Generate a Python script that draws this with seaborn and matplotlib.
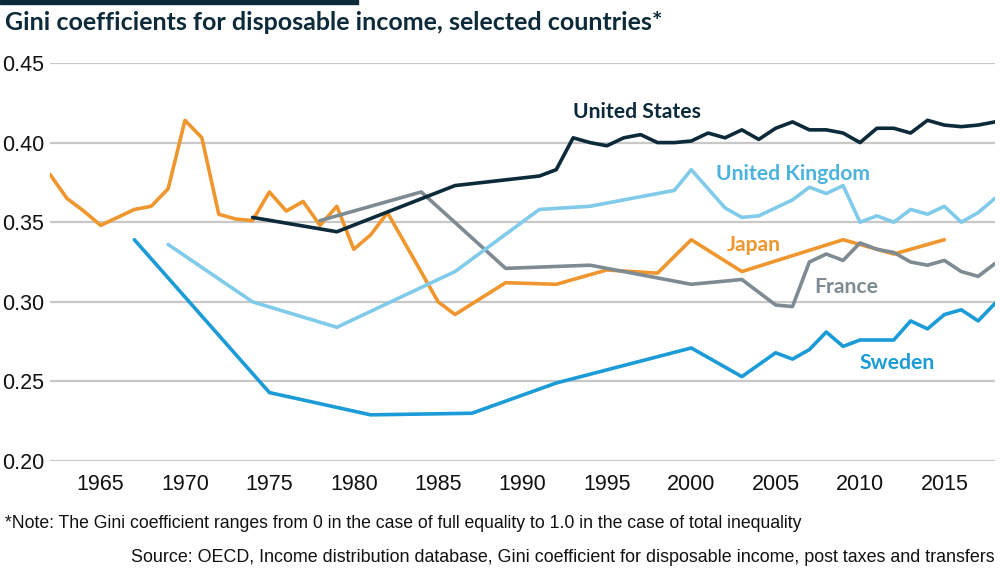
import numpy as np
import pandas as pd
import matplotlib
matplotlib.use("Agg")
import matplotlib.pyplot as plt
import seaborn as sns

# Gini coefficients
japan_years = [1962, 1963, 1964, 1965, 1966, 1967, 1968, 1969, 1970, 1971, 1972, 1973,
               1974, 1975, 1976, 1977, 1978, 1979, 1980, 1981, 1982, 1985, 1986, 1989,
               1992, 1995, 1998, 2000, 2003, 2009, 2012, 2015]
japan_gini = [0.380, 0.365, 0.357, 0.348, 0.353, 0.358, 0.360, 0.371, 0.414, 0.403, 0.355, 0.352,
              0.351, 0.369, 0.357, 0.363, 0.348, 0.360, 0.333, 0.342, 0.356, 0.300, 0.292, 0.312,
              0.311, 0.320, 0.318, 0.339, 0.319, 0.339, 0.330, 0.339]

us_years = [1974, 1979, 1986, 1991, 1992, 1993, 1994] + list(range(1995, 2019))
us_gini = [0.353, 0.344, 0.373, 0.379, 0.383, 0.403, 0.400,
           0.398, 0.403, 0.405, 0.400, 0.400, 0.401, 0.406, 0.403, 0.408, 0.402, 0.409, 0.413,
           0.408, 0.408, 0.406, 0.400, 0.409, 0.409, 0.406, 0.414, 0.411, 0.410, 0.411, 0.413]

uk_years = [1969, 1974, 1979, 1986, 1991, 1994, 1999] + list(range(2000, 2019))
uk_gini = [0.336, 0.300, 0.284, 0.319, 0.358, 0.360, 0.370,
           0.383, 0.371, 0.359, 0.353, 0.354, 0.359, 0.364, 0.372, 0.368, 0.373,
           0.350, 0.354, 0.350, 0.358, 0.355, 0.360, 0.350, 0.356, 0.365]

fr_years = [1978, 1984, 1989, 1994, 2000, 2003, 2005, 2006] + list(range(2007, 2019))
fr_gini = [0.351, 0.369, 0.321, 0.323, 0.311, 0.314, 0.298, 0.297,
           0.325, 0.330, 0.326, 0.337, 0.333, 0.331, 0.325, 0.323, 0.326, 0.319, 0.316, 0.324]

se_years = [1967, 1975, 1981, 1987, 1992, 2000, 2003, 2005, 2006] + list(range(2007, 2019))
se_gini = [0.339, 0.243, 0.229, 0.230, 0.249, 0.271, 0.253, 0.268, 0.264,
           0.270, 0.281, 0.272, 0.276, 0.276, 0.276, 0.288, 0.283, 0.292, 0.295, 0.288, 0.299]

countries = ["Japan", "France", "United Kingdom", "Sweden", "United States"]
colors = {"Japan": "#f0962e", "France": "#7e8b93", "United Kingdom": "#80cbea",
          "Sweden": "#1b9bd7", "United States": "#0c2a3a"}
label_colors = {"Japan": "#f0962e", "France": "#7e8b93", "United Kingdom": "#4cb2de",
                "Sweden": "#1b9bd7", "United States": "#0c2a3a"}
# label anchor (year, gini) for the inline series names
label_pos = {"United States": (1996.8, 0.4192), "United Kingdom": (2006.0, 0.3800),
             "Japan": (2003.7, 0.3357), "France": (2009.2, 0.3093), "Sweden": (2012.2, 0.2616)}

frames = []
for name, yrs, vals in [("Japan", japan_years, japan_gini), ("United States", us_years, us_gini),
                        ("United Kingdom", uk_years, uk_gini), ("France", fr_years, fr_gini),
                        ("Sweden", se_years, se_gini)]:
    frames.append(pd.DataFrame({"year": yrs, "gini": vals, "country": name}))
df = pd.concat(frames, ignore_index=True)

sns.set_style("white")
plt.rcParams["font.family"] = ["Liberation Sans Narrow", "Liberation Sans", "DejaVu Sans"]

navy = "#0c2a3a"
grid_c = "#c8c8c8"

fig = plt.figure(figsize=(10, 5.7), dpi=100)
ax = fig.add_axes([0.05, 0.1912, 0.945, 0.6983])

for c in countries:
    sns.lineplot(data=df[df.country == c], x="year", y="gini", color=colors[c],
                 linewidth=2.6, ax=ax, legend=False, zorder=3)

ax.set_xlim(1962, 2018)
ax.set_ylim(0.20, 0.45)
ax.set_yticks([0.20, 0.25, 0.30, 0.35, 0.40, 0.45])
ax.set_yticklabels(["0.20", "0.25", "0.30", "0.35", "0.40", "0.45"])
ax.set_xticks(range(1965, 2016, 5))
ax.yaxis.grid(True, color=grid_c, linewidth=1.6)
ax.xaxis.grid(False)
for s in ax.spines.values():
    s.set_visible(False)
ax.tick_params(axis="y", length=0, pad=4, labelsize=15.5, labelcolor="#111111")
ax.tick_params(axis="x", direction="in", length=5, width=1.2, color=grid_c, pad=9,
               labelsize=15.5, labelcolor="#111111")
ax.set_xlabel("")
ax.set_ylabel("")

for c in countries:
    x, y = label_pos[c]
    ax.text(x, y, c, color=label_colors[c], fontsize=15.2, fontweight="bold",
            family=["Lato", "DejaVu Sans"], ha="center", va="center")

# title and top bar
fig.patches.append(plt.Rectangle((0, 1 - 4 / 570), 358 / 1000, 4 / 570,
                                 transform=fig.transFigure, color=navy))
fig.text(0.005, 1 - 23 / 570, "Gini coefficients for disposable income, selected countries*",
         fontsize=18, fontweight="bold", color=navy, family=["Lato", "DejaVu Sans"],
         ha="left", va="center")

fig.text(0.005, 1 - 524 / 570,
         "*Note: The Gini coefficient ranges from 0 in the case of full equality to 1.0 in the case of total inequality",
         fontsize=12.7, color="#111111", ha="left", va="center")
fig.text(0.995, 1 - 557 / 570,
         "Source: OECD, Income distribution database, Gini coefficient for disposable income, post taxes and transfers",
         fontsize=12.9, color="#111111", ha="right", va="center")

fig.savefig("out.png", dpi=100)
